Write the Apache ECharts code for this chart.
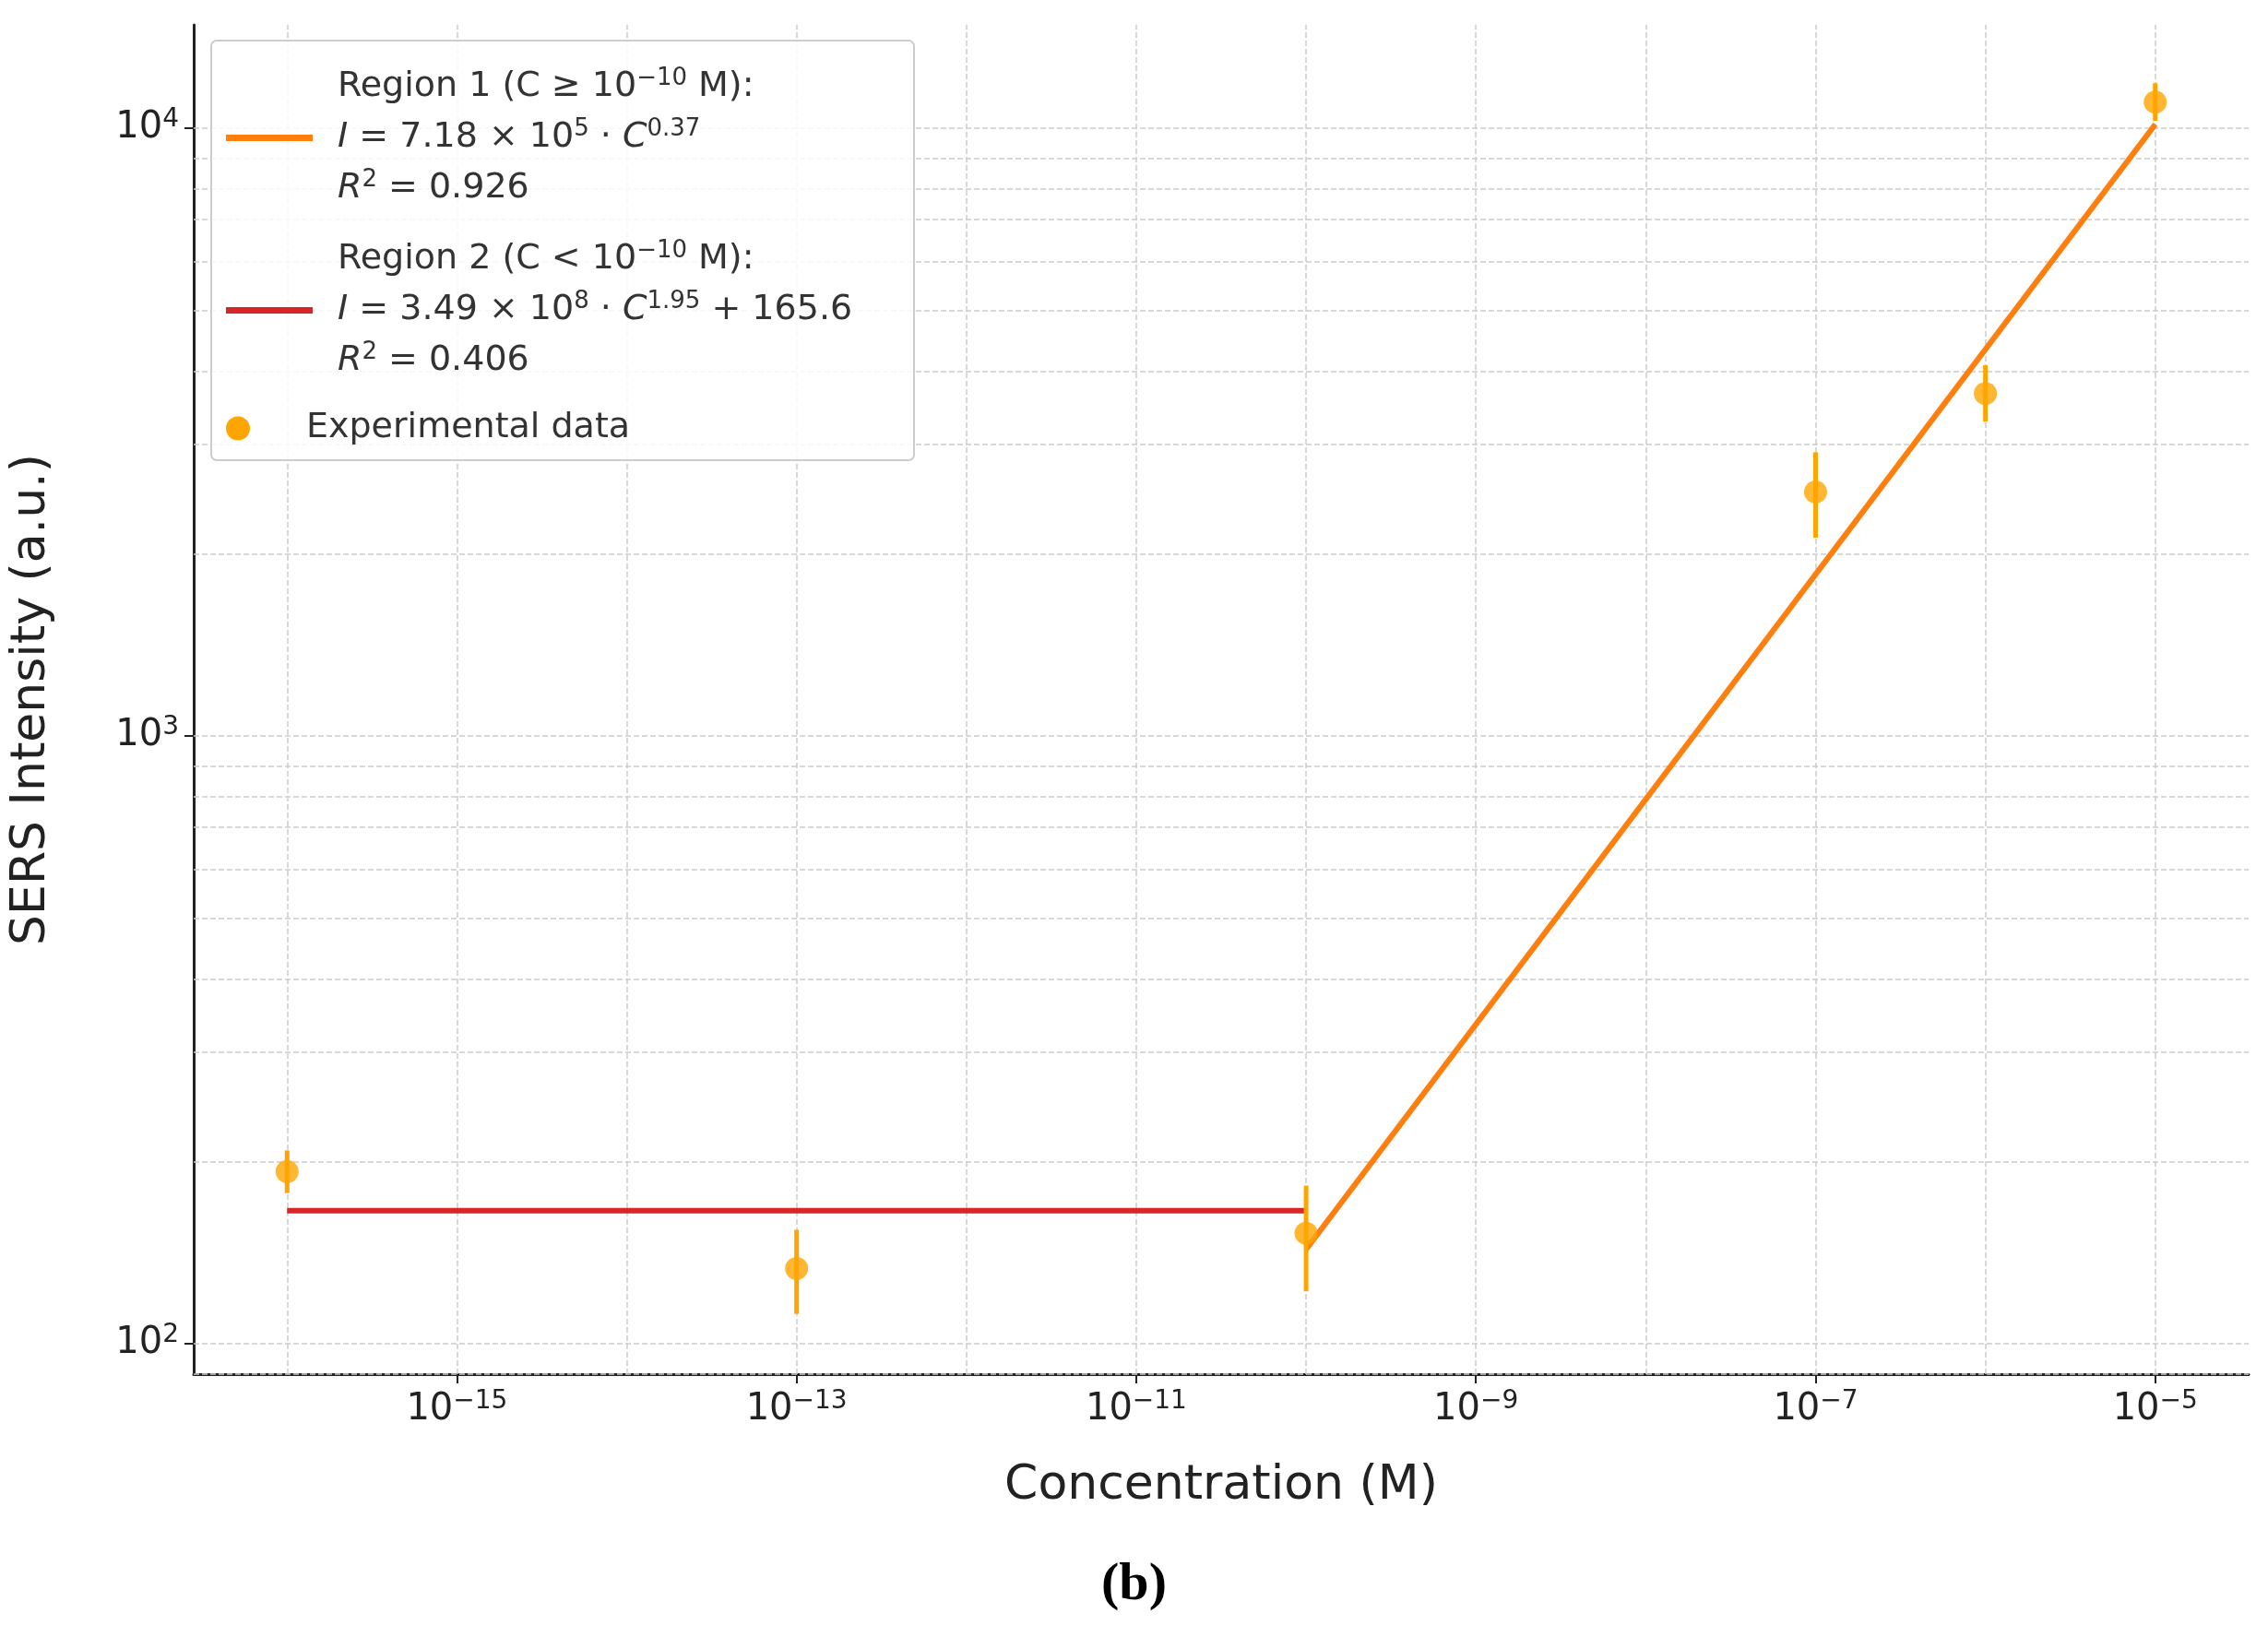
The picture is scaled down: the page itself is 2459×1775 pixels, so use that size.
<!DOCTYPE html>
<html>
<head>
<meta charset="utf-8">
<script src="https://cdn.jsdelivr.net/npm/echarts@6/dist/echarts.min.js"></script>
<style>html,body{margin:0;background:#fff}#c{width:2459px;height:1775px}</style>
</head>
<body>
<div id="c"></div>
<script>
// data (real units)
const concentrations = [1e-16, 1e-13, 1e-10, 1e-7, 1e-6, 1e-5];
const intensity = [192, 133, 152, 2520, 3660, 11040];
const errLow = [177, 112, 122, 2120, 3290, 10280];
const errHigh = [208, 154, 182, 2930, 4075, 11860];
const fit1X = [1e-10, 1e-5];
const fit1Y = [143, 10145];
const fit2X = [1e-16, 1e-10];
const fit2Y = [165.6, 165.6];
const xDecades = [-16, -15, -14, -13, -12, -11, -10, -9, -8, -7, -6, -5];
const xLabelDecades = [-15, -13, -11, -9, -7, -5];
const yDecades = [2, 3, 4];

const lg = Math.log10;
const chart = echarts.init(document.getElementById('c'));
const FONT = 'DejaVu Sans';
const sup = { fontSize: 26, fontFamily: FONT, color: '#333', padding: [0, 0, 18, 0] };
const it = { fontStyle: 'italic', fontSize: 38, fontFamily: FONT, color: '#333' };

const minorY = [];
for (let n = 1; n <= 4; n++) for (let k = 2; k <= 9; k++) {
  const v = lg(k * Math.pow(10, n));
  if (v > 1.95 && v < 4.17) minorY.push({ yAxis: v });
}

function powLabel(v) {
  const e = Math.round(v);
  return '{b|10}{s|' + (e < 0 ? '−' + (-e) : e) + '}';
}

const legendText = {
  'Region 1': 'Region 1 (C ≥ 10{s|−10} M):\n{i|I} = 7.18 × 10{s|5} · {i|C}{s|0.37}\n{i|R}{s|2} = 0.926',
  'Region 2': 'Region 2 (C < 10{s|−10} M):\n{i|I} = 3.49 × 10{s|8} · {i|C}{s|1.95} + 165.6\n{i|R}{s|2} = 0.406',
  'Experimental data': 'Experimental data'
};
const legendTextStyle = {
  fontSize: 38, fontFamily: FONT, color: '#333', lineHeight: 55, padding: [0, 0, 0, 22],
  rich: { s: sup, i: it }
};
const tickRich = { b: { fontSize: 40, fontFamily: FONT, color: '#222' }, s: { ...sup, fontSize: 28, color: '#222' } };
const gridLine = { show: true, lineStyle: { color: '#ccc', type: 'dashed', width: 1.5 } };

chart.setOption({
  backgroundColor: '#fff',
  animation: false,
  grid: { left: 205, right: 21, top: 27, bottom: 285 },
  graphic: [
    { type: 'rect', shape: { x: 229, y: 44, width: 762, height: 455, r: 6 },
      style: { fill: 'rgba(255,255,255,0.85)', stroke: '#ccc', lineWidth: 2 }, z: 50 },
    { type: 'text', left: 'center', top: 1690,
      style: { text: '(b)', font: 'bold 58px "Liberation Serif"', fill: '#000' } }
  ],
  legend: [
    { data: ['Region 1', 'Region 2'], orient: 'vertical', left: 240, top: 62,
      itemWidth: 94, itemHeight: 7, itemGap: 22, icon: 'rect', z: 60,
      formatter: n => legendText[n], textStyle: legendTextStyle },
    { data: ['Experimental data'], orient: 'vertical', left: 240, top: 432,
      itemWidth: 94, itemHeight: 26, icon: 'circle', z: 60,
      formatter: n => legendText[n], textStyle: legendTextStyle }
  ],
  xAxis: {
    type: 'value', min: -16.55, max: -4.45,
    name: 'Concentration (M)', nameLocation: 'middle', nameGap: 95,
    nameTextStyle: { fontSize: 52, fontFamily: FONT, color: '#222' },
    axisLine: { lineStyle: { color: '#222', width: 3 } },
    axisTick: { show: true, length: 10, customValues: xLabelDecades, lineStyle: { color: '#222', width: 2 } },
    axisLabel: { margin: 16, customValues: xLabelDecades, formatter: powLabel, rich: tickRich },
    splitLine: { show: false }
  },
  yAxis: {
    type: 'value', min: 1.95, max: 4.17,
    name: 'SERS Intensity (a.u.)', nameLocation: 'middle', nameGap: 150,
    nameTextStyle: { fontSize: 52, fontFamily: FONT, color: '#222' },
    axisLine: { show: true, lineStyle: { color: '#222', width: 3 } },
    axisTick: { show: true, length: 10, customValues: yDecades, lineStyle: { color: '#222', width: 2 } },
    axisLabel: { margin: 16, customValues: yDecades, formatter: powLabel, rich: tickRich },
    splitLine: { show: false }
  },
  series: [
    { name: 'Region 1', type: 'line', showSymbol: false, color: '#ff7f0e',
      lineStyle: { width: 6 }, z: 3,
      data: fit1X.map((x, i) => [lg(x), lg(fit1Y[i])]) },
    { name: 'Region 2', type: 'line', showSymbol: false, color: '#d62728',
      lineStyle: { width: 6 }, z: 3,
      data: fit2X.map((x, i) => [lg(x), lg(fit2Y[i])]) },
    { name: 'Experimental data', type: 'custom', color: '#ffa500', z: 4,
      renderItem: (params, api) => {
        const a = api.coord([api.value(0), api.value(1)]);
        const b = api.coord([api.value(0), api.value(2)]);
        return { type: 'line', shape: { x1: a[0], y1: a[1], x2: b[0], y2: b[1] },
          style: { stroke: '#ffa500', lineWidth: 5 } };
      },
      data: concentrations.map((x, i) => [lg(x), lg(errLow[i]), lg(errHigh[i])]) },
    { name: 'Experimental data', type: 'scatter', color: '#ffa500', symbolSize: 25, z: 5,
      data: concentrations.map((x, i) => [lg(x), lg(intensity[i])]),
      markLine: { silent: true, symbol: 'none', label: { show: false }, z: 1,
        lineStyle: { color: '#ccc', type: 'dashed', width: 1.5 },
        data: minorY.concat(yDecades.map(v => ({ yAxis: v })), xDecades.map(v => ({ xAxis: v }))) } }
  ]
});
</script>
</body>
</html>
